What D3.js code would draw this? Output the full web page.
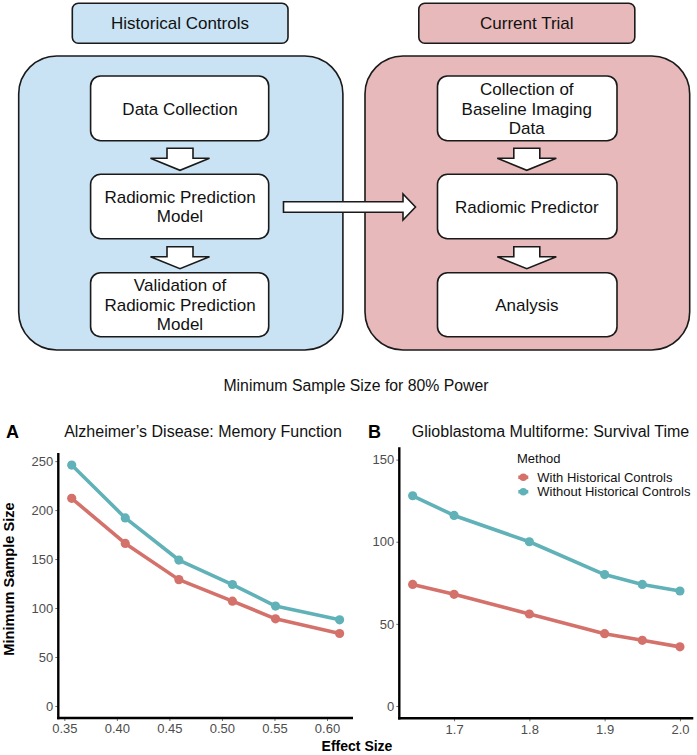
<!DOCTYPE html>
<html><head><meta charset="utf-8">
<script src="https://cdn.jsdelivr.net/npm/d3@7"></script>
<style>body{margin:0;background:#fff}svg{display:block}</style>
</head><body>
<script>
// ---- data ----
const effectA = [0.357, 0.408, 0.459, 0.510, 0.551, 0.612];
const withA = [212, 166, 129, 107, 89, 74];
const withoutA = [246, 192, 149, 124, 102, 88];
const effectB = [1.645, 1.7, 1.8, 1.9, 1.95, 2.0];
const withB = [74, 68, 56, 44, 40, 36];
const withoutB = [128, 116, 100, 80, 74, 70];
const ticksAx = [0.35, 0.40, 0.45, 0.50, 0.55, 0.60];
const ticksAy = [0, 50, 100, 150, 200, 250];
const ticksBx = [1.7, 1.8, 1.9, 2.0];
const ticksBy = [0, 50, 100, 150];
const methods = ["With Historical Controls", "Without Historical Controls"];
const colors = ["#D4716B", "#60B2B8"];

const W = 697, H = 755;
const svg = d3.select("body").append("svg").attr("width", W).attr("height", H);
const sans = "'Liberation Sans', Arial, sans-serif";
const narrow = "'Liberation Sans Narrow', 'Arial Narrow', 'Liberation Sans', sans-serif";

// ---- diagram ----
const D = svg.append("g");
function rbox(x0, y0, x1, y1, r, fill) {
  D.append("rect").attr("x", x0).attr("y", y0).attr("width", x1 - x0).attr("height", y1 - y0)
    .attr("rx", r).attr("ry", r).attr("fill", fill).attr("stroke", "#1a1a1a").attr("stroke-width", 1.6);
}
function txt(x, ys, lines) {
  lines.forEach((l, i) => D.append("text").attr("x", x).attr("y", ys[i]).attr("text-anchor", "middle")
    .attr("dominant-baseline", "central").attr("font-family", narrow).attr("font-size", 17).attr("fill", "#111").text(l));
}
const blue = "#C9E3F5", pink = "#E8B9BA";
rbox(72.3, 3.3, 288, 43.3, 6, blue);
rbox(418.8, 3.3, 634.8, 43.3, 6, pink);
rbox(18.7, 56, 342.9, 350, 38, blue);
rbox(365, 56, 689.7, 350, 38, pink);
const rows = [[76, 140.7], [174.3, 238.7], [272.7, 336.7]];
rows.forEach(r => { rbox(90.6, r[0], 268.7, r[1], 10, "#fff"); rbox(437.5, r[0], 617, r[1], 10, "#fff"); });
txt(180, [23.3], ["Historical Controls"]);
txt(526.8, [23.3], ["Current Trial"]);
txt(180, [109], ["Data Collection"]);
txt(180, [197.3, 216.7], ["Radiomic Prediction", "Model"]);
txt(180, [285.7, 305, 324.3], ["Validation of", "Radiomic Prediction", "Model"]);
txt(526.8, [89.5, 109, 128.5], ["Collection of", "Baseline Imaging", "Data"]);
txt(526.8, [207.3], ["Radiomic Predictor"]);
txt(526.8, [305], ["Analysis"]);
function downArrow(cx, top) {
  const pts = [[cx - 13, top], [cx + 13, top], [cx + 13, top + 10], [cx + 29.5, top + 10], [cx, top + 22],
    [cx - 29.5, top + 10], [cx - 13, top + 10]];
  D.append("polygon").attr("points", pts.map(p => p.join(",")).join(" "))
    .attr("fill", "#fff").attr("stroke", "#1a1a1a").attr("stroke-width", 1.6).attr("stroke-linejoin", "miter");
}
[180, 526.8].forEach(cx => { downArrow(cx, 148.3); downArrow(cx, 246.7); });
{
  const pts = [[283.5, 201.7], [403, 201.7], [403, 194], [415.5, 207], [403, 220], [403, 212.3], [283.5, 212.3]];
  D.append("polygon").attr("points", pts.map(p => p.join(",")).join(" "))
    .attr("fill", "#fff").attr("stroke", "#1a1a1a").attr("stroke-width", 1.6);
}

// ---- plots ----
svg.append("text").attr("x", 356).attr("y", 391).attr("text-anchor", "middle")
  .attr("font-family", sans).attr("font-size", 15.8).attr("fill", "#111").text("Minimum Sample Size for 80% Power");

function expand(lo, hi) { const d = (hi - lo) * 0.05; return [lo - d, hi + d]; }

function panel(opt) {
  const g = svg.append("g");
  const x = d3.scaleLinear().domain(expand(d3.min(opt.xs), d3.max(opt.xs))).range([opt.x0, opt.x1]);
  const y = d3.scaleLinear().domain(expand(0, opt.ymax)).range([opt.y0, opt.y1]);
  const xa = g.append("g").attr("transform", `translate(0,${opt.y0})`)
    .call(d3.axisBottom(x).tickValues(opt.tx).tickFormat(opt.fx).tickSize(3).tickPadding(3));
  const ya = g.append("g").attr("transform", `translate(${opt.x0},0)`)
    .call(d3.axisLeft(y).tickValues(opt.ty).tickFormat(d3.format("d")).tickSize(3).tickPadding(2));
  [xa, ya].forEach(a => {
    a.select(".domain").remove();
    a.selectAll(".tick line").attr("stroke", "#4d4d4d").attr("stroke-width", 0.8);
    a.selectAll(".tick text").attr("font-family", sans).attr("font-size", 13).attr("fill", "#4d4d4d");
  });
  g.append("line").attr("x1", opt.x0).attr("x2", opt.x0).attr("y1", opt.y1).attr("y2", opt.y0 + 1.2)
    .attr("stroke", "#000").attr("stroke-width", 2.4);
  g.append("line").attr("x1", opt.x0 - 1.2).attr("x2", opt.x1).attr("y1", opt.y0).attr("y2", opt.y0)
    .attr("stroke", "#000").attr("stroke-width", 2.4);
  const series = [opt.w, opt.wo];
  const line = d3.line().x(d => x(d[0])).y(d => y(d[1]));
  series.forEach((s, i) => {
    const pts = opt.xs.map((v, j) => [v, s[j]]);
    g.append("path").datum(pts).attr("d", line).attr("fill", "none").attr("stroke", colors[i])
      .attr("stroke-width", 3.6).attr("stroke-linejoin", "round");
    g.selectAll(null).data(pts).enter().append("circle").attr("cx", d => x(d[0])).attr("cy", d => y(d[1]))
      .attr("r", 4.6).attr("fill", colors[i]);
  });
  g.append("text").attr("x", opt.lx).attr("y", 438).attr("font-family", sans).attr("font-weight", "bold")
    .attr("font-size", 18).attr("fill", "#000").text(opt.letter);
  g.append("text").attr("x", opt.tcx).attr("y", 437).attr("text-anchor", "middle").attr("font-family", sans)
    .attr("font-size", 16).attr("fill", "#111").text(opt.title);
  return g;
}

panel({ xs: effectA, w: withA, wo: withoutA, ymax: d3.max(withoutA), x0: 58.3, x1: 353, y0: 718, y1: 453,
  tx: ticksAx, ty: ticksAy, fx: d3.format(".2f"), letter: "A", lx: 6, tcx: 203,
  title: "Alzheimer’s Disease: Memory Function" });
panel({ xs: effectB, w: withB, wo: withoutB, ymax: 150, x0: 399.3, x1: 693.3, y0: 718.3, y1: 447.3,
  tx: ticksBx, ty: ticksBy, fx: d3.format(".1f"), letter: "B", lx: 368, tcx: 550.5,
  title: "Glioblastoma Multiforme: Survival Time" });

svg.append("text").attr("transform", "translate(14,579) rotate(-90)").attr("text-anchor", "middle")
  .attr("font-family", sans).attr("font-weight", "bold").attr("font-size", 14.6).attr("fill", "#000").text("Minimum Sample Size");
svg.append("text").attr("x", 357).attr("y", 751).attr("text-anchor", "middle")
  .attr("font-family", sans).attr("font-weight", "bold").attr("font-size", 14).attr("fill", "#000").text("Effect Size");

// legend
const L = svg.append("g");
L.append("text").attr("x", 517).attr("y", 463).attr("font-family", sans).attr("font-size", 13).attr("fill", "#111").text("Method");
methods.forEach((m, i) => {
  const cy = 477.3 + i * 14.4;
  L.append("line").attr("x1", 518.3).attr("x2", 528.3).attr("y1", cy).attr("y2", cy)
    .attr("stroke", colors[i]).attr("stroke-width", 3.6);
  L.append("circle").attr("cx", 523.3).attr("cy", cy).attr("r", 3.8).attr("fill", colors[i]);
  L.append("text").attr("x", 537.3).attr("y", cy).attr("dominant-baseline", "central")
    .attr("font-family", sans).attr("font-size", 13).attr("fill", "#111").text(m);
});
</script>
</body></html>
